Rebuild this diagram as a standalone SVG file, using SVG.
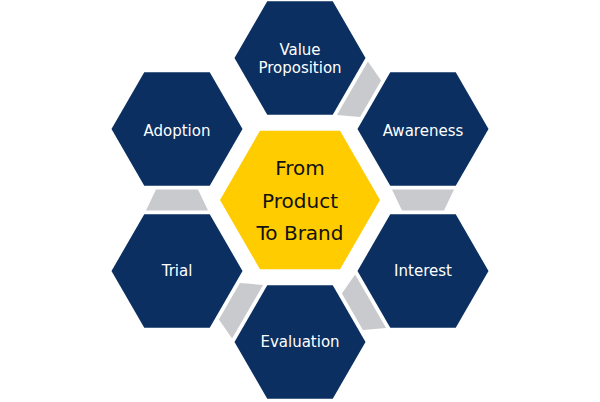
<svg xmlns="http://www.w3.org/2000/svg" xmlns:xlink="http://www.w3.org/1999/xlink" width="600" height="402" viewBox="0 0 600 402">
  <style>
    .hex { fill: #0a2f60; }
    .core { fill: #ffcc00; }
    .link { fill: #c9cace; }
    .lbl { font-family: "DejaVu Sans", "Liberation Sans", sans-serif; font-size: 15px; fill: #ffffff; text-anchor: middle; }
    .clbl { font-family: "DejaVu Sans", "Liberation Sans", sans-serif; font-size: 20px; fill: #111111; text-anchor: middle; }
  </style>
  <defs>
    <polygon id="hexShape" points="-65.5,0 -32.75,-56.7 32.75,-56.7 65.5,0 32.75,56.7 -32.75,56.7"/>
    <polygon id="trap" points="-31,-10.5 31,-10.5 21,10.5 -21,10.5"/>
  </defs>
  <rect width="600" height="402" fill="#ffffff"/>

  <g id="connectors">
    <use xlink:href="#trap" class="link" transform="translate(361.5,93.5) rotate(-60)"/>
    <use xlink:href="#trap" class="link" transform="translate(423,200)"/>
    <use xlink:href="#trap" class="link" transform="translate(361.5,306.5) rotate(60)"/>
    <use xlink:href="#trap" class="link" transform="translate(238.5,306.5) rotate(120)"/>
    <use xlink:href="#trap" class="link" transform="translate(177,200) rotate(180)"/>
  </g>

  <g id="center">
    <polygon class="core" points="220,200 260,130.7 340,130.7 380,200 340,269.3 260,269.3"/>
    <text class="clbl" x="300" y="175">From</text>
    <text class="clbl" x="300" y="207.5">Product</text>
    <text class="clbl" x="300" y="240">To Brand</text>
  </g>

  <g id="value-proposition">
    <use xlink:href="#hexShape" class="hex" transform="translate(300,58)"/>
    <text class="lbl" x="300" y="55">Value</text>
    <text class="lbl" x="300" y="73">Proposition</text>
  </g>

  <g id="awareness">
    <use xlink:href="#hexShape" class="hex" transform="translate(423,129)"/>
    <text class="lbl" x="423" y="135.5">Awareness</text>
  </g>

  <g id="interest">
    <use xlink:href="#hexShape" class="hex" transform="translate(423,271)"/>
    <text class="lbl" x="423" y="276">Interest</text>
  </g>

  <g id="evaluation">
    <use xlink:href="#hexShape" class="hex" transform="translate(300,342)"/>
    <text class="lbl" x="300" y="347">Evaluation</text>
  </g>

  <g id="trial">
    <use xlink:href="#hexShape" class="hex" transform="translate(177,271)"/>
    <text class="lbl" x="177" y="276">Trial</text>
  </g>

  <g id="adoption">
    <use xlink:href="#hexShape" class="hex" transform="translate(177,129)"/>
    <text class="lbl" x="177" y="135.5">Adoption</text>
  </g>
</svg>
